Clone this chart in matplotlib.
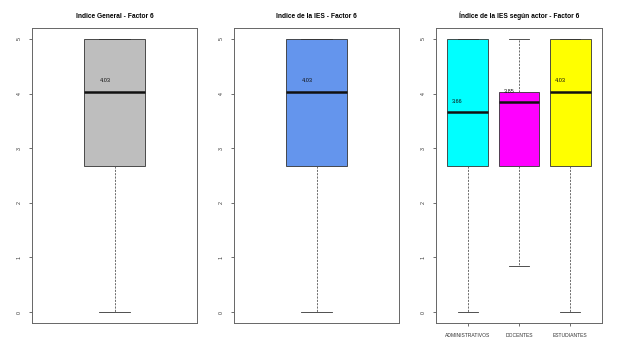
import matplotlib
matplotlib.use("Agg")
import matplotlib.pyplot as plt

plt.rcParams['font.family'] = ['Liberation Sans', 'DejaVu Sans']

# Data
titles = ["Indice General - Factor 6", "Indice de la IES - Factor 6", "Índice de la IES según actor - Factor 6"]
actors = ["ADMINISTRATIVOS", "DOCENTES", "ESTUDIANTES"]

gen_q1, gen_med, gen_q3, gen_lo, gen_hi = 2.68, 4.03, 5.0, 0.0, 5.0
ies_q1, ies_med, ies_q3, ies_lo, ies_hi = 2.68, 4.03, 5.0, 0.0, 5.0
act_q1 = [2.68, 2.68, 2.68]
act_med = [3.66, 3.84, 4.03]
act_q3 = [5.0, 4.03, 5.0]
act_lo = [0.0, 0.85, 0.0]
act_hi = [5.0, 5.0, 5.0]
act_labels = ["3.66", "3.85", "4.03"]
gen_label = "4.03"
ies_label = "4.03"

colors_single = ["#BEBEBE", "#6495ED"]
colors_act = ["#00FFFF", "#FF00FF", "#FFFF00"]

fig = plt.figure(figsize=(6.21, 3.41), dpi=100)
W, H = 621, 341
def ax_at(l, r, t=28, b=323):
    return fig.add_axes([l / W, 1 - b / H, (r - l) / W, (b - t) / H])

axes = [ax_at(32, 197), ax_at(234, 399), ax_at(436, 602)]

def stat(q1, med, q3, lo, hi):
    return dict(q1=q1, med=med, q3=q3, whislo=lo, whishi=hi, fliers=[])

def draw(ax, stats, cols, width, capw, labels, xoff):
    n = len(stats)
    bp = ax.bxp(stats, positions=list(range(1, n + 1)), widths=width, patch_artist=True,
                showfliers=False, capwidths=capw,
                boxprops=dict(linewidth=0.6, edgecolor="#333333"),
                medianprops=dict(color="#111111", linewidth=1.8),
                whiskerprops=dict(color="#555555", linewidth=0.6, linestyle=(0, (2.5, 1.5))),
                capprops=dict(color="#333333", linewidth=0.6))
    for p, c in zip(bp['boxes'], cols):
        p.set_facecolor(c)
    for i, (s, lab) in enumerate(zip(stats, labels)):
        ax.text(i + 1 + xoff, s['med'] + 0.2, lab, fontsize=4.0, ha='center', va='center', color="#111111")
    pad = 0.04 * n
    ax.set_xlim(0.5 - pad, n + 0.5 + pad)
    ax.set_ylim(-0.2, 5.2)
    ax.set_yticks([0, 1, 2, 3, 4, 5])
    ax.set_yticklabels(["0", "1", "2", "3", "4", "5"], rotation=90, va='center', fontsize=3.8)
    ax.tick_params(axis='y', length=2.5, width=0.5, pad=5, colors="#333333")
    for sp in ax.spines.values():
        sp.set_linewidth(0.7)
        sp.set_color("#666666")

draw(axes[0], [stat(gen_q1, gen_med, gen_q3, gen_lo, gen_hi)], colors_single[:1], 0.4, 0.2, [gen_label], -0.06)
draw(axes[1], [stat(ies_q1, ies_med, ies_q3, ies_lo, ies_hi)], colors_single[1:], 0.4, 0.2, [ies_label], -0.06)
draw(axes[2], [stat(*v) for v in zip(act_q1, act_med, act_q3, act_lo, act_hi)], colors_act, 0.8, 0.4, act_labels, -0.2)

axes[0].set_xticks([])
axes[1].set_xticks([])
axes[2].set_xticks([1, 2, 3])
axes[2].set_xticklabels(actors, fontsize=3.6)
axes[2].tick_params(axis='x', length=2.5, width=0.5, pad=5, colors="#333333")

for ax, t in zip(axes, titles):
    ax.set_title(t, fontsize=4.8, fontweight='bold', pad=7)

fig.savefig("out.png", dpi=100)
